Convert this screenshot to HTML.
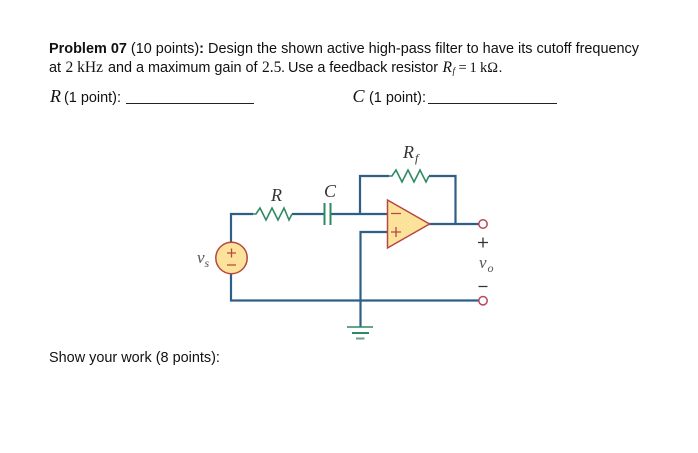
<!DOCTYPE html>
<html>
<head>
<meta charset="utf-8">
<style>
html,body{margin:0;padding:0;background:#fff;width:698px;height:453px;overflow:hidden}
svg{display:block}
text{font-family:"Liberation Sans",sans-serif;fill:#111;font-size:14.45px}
text.s{font-family:"Liberation Serif",serif;font-size:15.5px}
text.i{font-family:"Liberation Serif",serif;font-style:italic}
.w{stroke:#2f5f87;stroke-width:2.2;fill:none}
.g{stroke:#2f8a63;stroke-width:1.6;fill:none}
.r{stroke:#b5483f;stroke-width:1.5;fill:#fde29c}
</style>
</head>
<body>
<svg width="698" height="453" viewBox="0 0 698 453" xmlns="http://www.w3.org/2000/svg">
<rect width="698" height="453" fill="#fff"/>

<text x="49" y="53" textLength="590"><tspan font-weight="bold">Problem 07</tspan> (10 points)<tspan font-weight="bold">:</tspan> Design the shown active high-pass filter to have its cutoff frequency</text>
<text x="49" y="72">at</text>
<text x="65.5" y="72" class="s">2 kHz</text>
<text x="108" y="72" textLength="149.5">and a maximum gain of</text>
<text x="262" y="72" class="s">2.5</text>
<text x="281" y="72">.</text>
<text x="288" y="72" textLength="150">Use a feedback resistor</text>
<text x="442.5" y="72" class="i" style="font-size:15.5px">R</text>
<text x="452.5" y="74" class="i" style="font-size:9px">f</text>
<text x="458.5" y="72" class="s" style="font-size:14.5px">=</text>
<text x="469.5" y="72" class="s" style="font-size:14.5px">1</text>
<text x="480" y="72" class="s" style="font-size:14.5px">kΩ</text>
<text x="498.5" y="72">.</text>

<text x="50" y="102" class="i" style="font-size:18px">R</text>
<text x="64" y="102">(1 point):</text>
<line x1="126" y1="103.5" x2="254" y2="103.5" stroke="#222" stroke-width="1"/>
<text x="352.5" y="102" class="i" style="font-size:18px">C</text>
<text x="369" y="102">(1 point):</text>
<line x1="428" y1="103.5" x2="557" y2="103.5" stroke="#222" stroke-width="1"/>

<text x="49" y="362">Show your work (8 points):</text>

<!-- wires -->
<path class="w" d="M231 242V214H253"/>
<path class="w" d="M292 214H324.5"/>
<path class="w" d="M330.5 214H388"/>
<path class="w" stroke-width="1.8" d="M360 214V176H389M429 176H455.5V224"/>
<path class="w" d="M429 224H479"/>
<path class="w" stroke-width="1.8" d="M388 232H360.5V327"/>
<path class="w" d="M231 274V300.5H479"/>

<!-- resistors -->
<polyline class="g" points="253,214 256,214 260,208 266,220 272,208 278,220 284,208 289,220 292,214"/>
<polyline class="g" points="389,176 392,176 396,170 402,182 408,170 414,182 420,170 426,182 429,176"/>

<!-- capacitor -->
<path stroke="#2f8a63" stroke-width="2" fill="none" d="M324.5 203V225M330.5 203V225"/>

<!-- op amp -->
<polygon class="r" points="387.5,200 429.5,224 387.5,248"/>
<path stroke="#b5483f" stroke-width="1.3" fill="none" d="M391 213.5H401M391 232H401M396 227V237"/>

<!-- source -->
<circle class="r" cx="231.5" cy="258" r="15.7"/>
<path stroke="#b5483f" stroke-width="1.3" fill="none" d="M227 253H236M231.5 248.5V257.5M227 265H236"/>

<!-- terminals -->
<circle cx="483" cy="224" r="4.2" fill="#fff" stroke="#b8475a" stroke-width="1.5"/>
<circle cx="483" cy="300.7" r="4.2" fill="#fff" stroke="#b8475a" stroke-width="1.5"/>

<!-- ground -->
<path stroke="#2f8a63" fill="none" stroke-width="1.5" d="M347 327H373"/>
<path stroke="#2f8a63" fill="none" stroke-width="2" d="M352 333H369"/>
<path stroke="#6f9f8a" fill="none" stroke-width="2" d="M356 338.5H364.5"/>

<!-- labels -->
<text x="271" y="201" class="i" style="font-size:18px;fill:#333">R</text>
<text x="324" y="197" class="i" style="font-size:18px;fill:#333">C</text>
<text x="403" y="158" class="i" style="font-size:18px;fill:#333">R</text>
<text x="415" y="162" class="i" style="font-size:12px;fill:#333">f</text>
<text x="197" y="263" class="i" style="font-size:17px;fill:#555">v</text>
<text x="204.5" y="267" class="i" style="font-size:12px;fill:#555">s</text>
<path stroke="#333" stroke-width="1.3" fill="none" d="M478 242.5H488M483 237.5V247.5M478.5 286.5H487.5"/>
<text x="479" y="268" class="i" style="font-size:17px;fill:#555">v</text>
<text x="487.5" y="272" class="i" style="font-size:12px;fill:#555">o</text>
</svg>
</body>
</html>
